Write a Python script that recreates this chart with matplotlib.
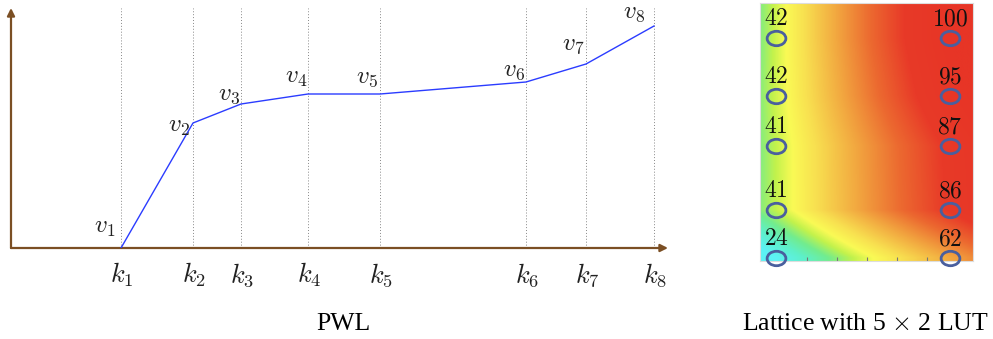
import numpy as np
import matplotlib.pyplot as plt
from matplotlib.colors import LinearSegmentedColormap
from matplotlib.path import Path
from matplotlib.transforms import Affine2D

plt.rcParams['mathtext.fontset'] = 'cm'

# PWL: knot positions and values
knots = [110, 182, 230, 297, 369, 515, 575, 643]
values = [0, 125, 144, 154, 154, 166, 184, 222]
k_labels = [r'$k_{%d}$' % (i + 1) for i in range(8)]
v_labels = [r'$v_{%d}$' % (i + 1) for i in range(8)]
# where each v label sits relative to its point (layout only)
v_offsets = [(-16, 21), (-14, -3), (-12, 10), (-12, 17), (-13, 17), (-12, 12), (-13, 20), (-20, 14)]

# Lattice 5 x 2 LUT
lut_cols = [0.0, 1.0]
lut_rows = [0, 48, 112, 162, 220]
lut_left = [24, 41, 41, 42, 42]
lut_right = [62, 86, 87, 95, 100]

W, H = 993, 339
fig = plt.figure(figsize=(W / 100, H / 100), dpi=100)

# ---- left panel: piecewise linear function ----
x0, x1, ytop, ybot = 11, 668, 8, 248
ax = fig.add_axes([x0 / W, (H - ybot) / H, (x1 - x0) / W, (ybot - ytop) / H])
ax.set_xlim(0, x1 - x0)
ax.set_ylim(0, ybot - ytop)
ax.axis('off')

brown = '#7b4f24'
ax.annotate('', xy=(x1 - x0, 0), xytext=(0, 0),
            arrowprops=dict(arrowstyle='-|>', color=brown, lw=1.6, mutation_scale=11,
                            shrinkA=0, shrinkB=0), annotation_clip=False)
ax.annotate('', xy=(0, ybot - ytop), xytext=(0, 0),
            arrowprops=dict(arrowstyle='-|>', color=brown, lw=1.6, mutation_scale=11,
                            shrinkA=0, shrinkB=0), annotation_clip=False)

for k in knots:
    ax.plot([k, k], [0, ybot - ytop], ls=(0, (1, 2)), color='#888888', lw=0.7)

ax.plot(knots, values, color='#2b3cff', lw=1.0, zorder=3)

for k, v, lab, (dx, dy) in zip(knots, values, v_labels, v_offsets):
    ax.text(k + dx, v + dy, lab, fontsize=18, ha='center', va='center', color='#222222')
for k, lab in zip(knots, k_labels):
    ax.text(k + 1, -27, lab, fontsize=19, ha='center', va='center', color='#222222', clip_on=False)

fig.text(343 / W, 1 - 324 / H, 'PWL', fontsize=18.5, family='Liberation Serif',
         ha='center', va='center')

# ---- right panel: lattice heatmap ----
hx0, hx1, hy0, hy1 = 760, 973, 3, 261
px_col0, px_col1, px_row0 = 776, 950, 258
ax2 = fig.add_axes([hx0 / W, (H - hy1) / H, (hx1 - hx0) / W, (hy1 - hy0) / H])
xl = ((hx0 - px_col0) / (px_col1 - px_col0), (hx1 - px_col0) / (px_col1 - px_col0))
yl = (px_row0 - hy1, px_row0 - hy0)
ax2.set_xlim(*xl)
ax2.set_ylim(*yl)

gx = np.linspace(xl[0], xl[1], 300)
gy = np.linspace(yl[0], yl[1], 300)
left = np.interp(gy, lut_rows, lut_left)
right = np.interp(gy, lut_rows, lut_right)
Z = left[:, None] + (right - left)[:, None] * gx[None, :]

cmap = LinearSegmentedColormap.from_list('lat', [
    (0.00, '#5cf2f4'), (0.08, '#5ef0c8'), (0.15, '#72ec8e'), (0.22, '#c2f24c'),
    (0.28, '#fafa55'), (0.36, '#f8e050'), (0.50, '#f2a840'), (0.65, '#ec6a30'),
    (0.80, '#e83a28'), (1.00, '#e73526')])
ax2.imshow(Z, extent=[xl[0], xl[1], yl[0], yl[1]], origin='lower', aspect='auto',
           cmap=cmap, vmin=24, vmax=100, interpolation='bilinear')

for sp in ax2.spines.values():
    sp.set_color('#dddddd')
    sp.set_linewidth(0.8)
ax2.set_yticks([])
ax2.set_xticks([(p - px_col0) / (px_col1 - px_col0) for p in (807, 837, 867, 897, 927)])
ax2.set_xticklabels([])
ax2.tick_params(axis='x', direction='in', length=3, color='#777777')

# slightly flattened ring marker
ring = Path.unit_circle().transformed(Affine2D().scale(1.3, 1.0))
for c, col_vals in zip(lut_cols, (lut_left, lut_right)):
    ax2.plot([c] * len(lut_rows), lut_rows, marker=ring, ls='none', ms=13.5, mfc='none',
             mec='#4a5f9e', mew=2, clip_on=False, zorder=4)
    for r, val in zip(lut_rows, col_vals):
        ax2.annotate(r'$%d$' % val, (c, r), textcoords='offset pixels', xytext=(0, 20),
                     ha='center', va='center', fontsize=17, color='#111111',
                     annotation_clip=False, zorder=5)

fig.text(865 / W, 1 - 324 / H, r'Lattice with 5 $\times$ 2 LUT', fontsize=18.5,
         family='Liberation Serif', ha='center', va='center')

fig.savefig('out.png', dpi=100)
